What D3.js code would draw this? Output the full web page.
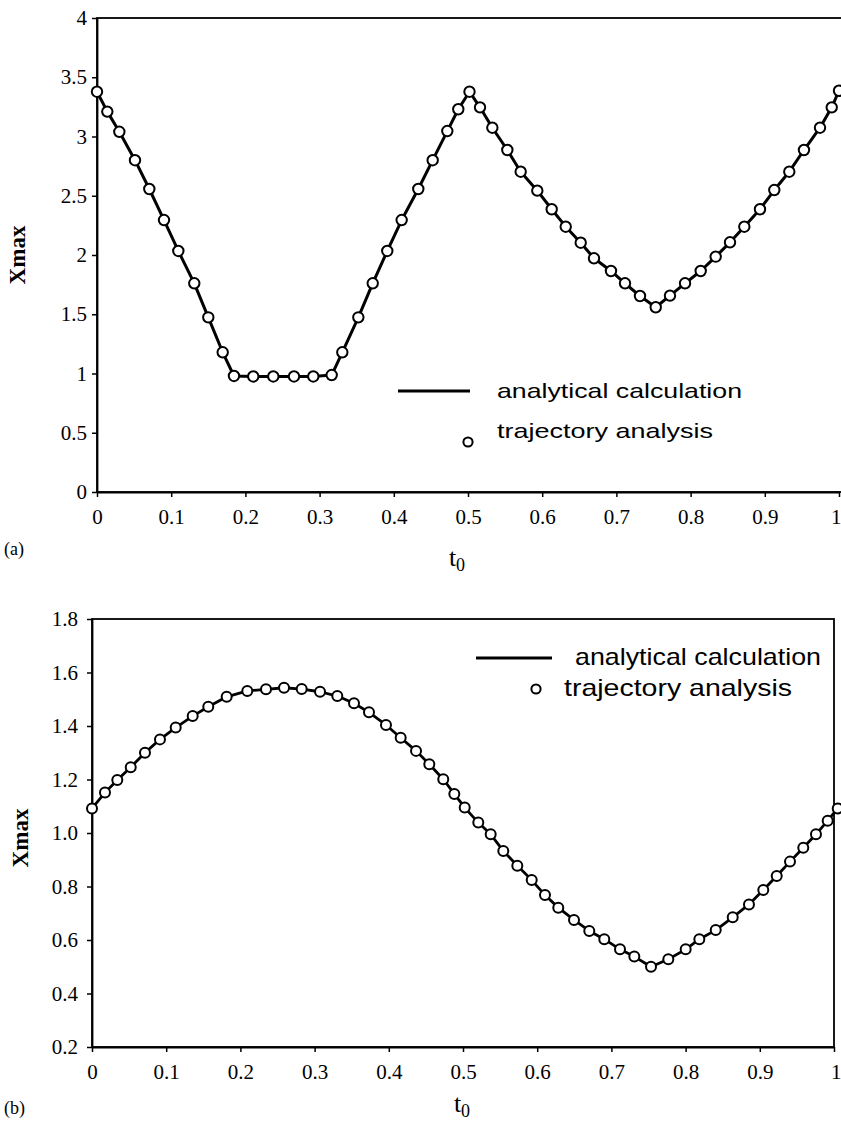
<!DOCTYPE html>
<html>
<head>
<meta charset="utf-8">
<script src="https://cdn.jsdelivr.net/npm/d3@7"></script>
<style>
  body { margin: 0; background: #fff; }
  svg { display: block; }
</style>
</head>
<body>
<svg id="svg" width="841" height="1124"></svg>
<script>
// panel (a)
const tA = [0, 0.0139, 0.0301, 0.0512, 0.0705, 0.0903, 0.1096, 0.1311, 0.1500, 0.1694,
  0.1846, 0.2106, 0.2376, 0.2655, 0.2915, 0.3163, 0.3306, 0.3522, 0.3716, 0.3912,
  0.4106, 0.4330, 0.4524, 0.4721, 0.4869, 0.5020, 0.5162, 0.5328, 0.5530, 0.5710,
  0.5934, 0.6128, 0.6317, 0.6519, 0.6698, 0.6927, 0.7116, 0.7318, 0.7530, 0.7722,
  0.7925, 0.8136, 0.8338, 0.8531, 0.8724, 0.8935, 0.9128, 0.9330, 0.9528, 0.9744,
  0.9902, 1.0];
const xmaxA = [3.378, 3.21, 3.04, 2.80, 2.557, 2.295, 2.034, 1.761, 1.474, 1.179,
  0.979, 0.975, 0.975, 0.975, 0.975, 0.987, 1.179, 1.474, 1.761, 2.034,
  2.295, 2.557, 2.80, 3.046, 3.23, 3.378, 3.246, 3.074, 2.886, 2.703,
  2.543, 2.386, 2.239, 2.104, 1.972, 1.865, 1.761, 1.654, 1.559, 1.657,
  1.761, 1.865, 1.986, 2.107, 2.239, 2.386, 2.548, 2.703, 2.886, 3.074,
  3.246, 3.386];

// panel (b)
const tB = [0, 0.0175, 0.0341, 0.0522, 0.0714, 0.0916, 0.1128, 0.1357, 0.1567, 0.1815,
  0.2093, 0.2345, 0.2588, 0.2826, 0.3073, 0.3306, 0.3531, 0.3733, 0.3962, 0.4160,
  0.4367, 0.4546, 0.4734, 0.4883, 0.5023, 0.5206, 0.5373, 0.5543, 0.5732, 0.5926,
  0.6105, 0.6284, 0.6496, 0.6702, 0.6904, 0.7116, 0.7309, 0.7534, 0.7767, 0.8001,
  0.8185, 0.8406, 0.8635, 0.8854, 0.9047, 0.9228, 0.9407, 0.9586, 0.9757, 0.9915,
  1.005];
const xmaxB = [1.092, 1.151, 1.198, 1.246, 1.300, 1.350, 1.394, 1.437, 1.472, 1.509,
  1.531, 1.537, 1.543, 1.538, 1.528, 1.512, 1.485, 1.451, 1.404, 1.356,
  1.307, 1.257, 1.201, 1.146, 1.095, 1.039, 0.995, 0.933, 0.878, 0.824,
  0.768, 0.721, 0.675, 0.634, 0.603, 0.565, 0.538, 0.500, 0.528, 0.565,
  0.603, 0.637, 0.685, 0.733, 0.787, 0.839, 0.893, 0.945, 0.995, 1.046,
  1.092];

const xTicks = [0, 0.1, 0.2, 0.3, 0.4, 0.5, 0.6, 0.7, 0.8, 0.9, 1];
const xTickLabels = ["0", "0.1", "0.2", "0.3", "0.4", "0.5", "0.6", "0.7", "0.8", "0.9", "1"];
const yTicksA = [0, 0.5, 1, 1.5, 2, 2.5, 3, 3.5, 4];
const yTickLabelsA = ["0", "0.5", "1", "1.5", "2", "2.5", "3", "3.5", "4"];
const yTicksB = [0.2, 0.4, 0.6, 0.8, 1.0, 1.2, 1.4, 1.6, 1.8];
const yTickLabelsB = ["0.2", "0.4", "0.6", "0.8", "1.0", "1.2", "1.4", "1.6", "1.8"];
const legendLabels = ["analytical calculation", "trajectory analysis"];

const svg = d3.select("#svg");
const serif = "'Liberation Serif', 'Times New Roman', serif";
const sans = "'Liberation Sans', Arial, sans-serif";

function panel(opt) {
  const x = d3.scaleLinear().domain([0, 1]).range([opt.left, opt.right]);
  const y = d3.scaleLinear().domain(opt.yDomain).range([opt.bottom, opt.top]);
  const g = svg.append("g");

  // frame
  g.append("rect")
    .attr("x", opt.left).attr("y", opt.top)
    .attr("width", opt.frameRight - opt.left).attr("height", opt.bottom - opt.top)
    .attr("fill", "none").attr("stroke", "#000").attr("stroke-width", 1.8);

  const xAxis = g.append("g")
    .attr("transform", `translate(0,${opt.bottom})`)
    .call(d3.axisBottom(x).tickValues(xTicks).tickSizeInner(5).tickSizeOuter(0).tickPadding(12)
      .tickFormat((d, i) => xTickLabels[i]));
  const yAxis = g.append("g")
    .attr("transform", `translate(${opt.left},0)`)
    .call(d3.axisLeft(y).tickValues(opt.yTicks).tickSizeInner(5).tickSizeOuter(0).tickPadding(opt.yPad)
      .tickFormat((d, i) => opt.yLabels[i]));
  [xAxis, yAxis].forEach(a => {
    a.select(".domain").attr("stroke", "#000").attr("stroke-width", 1.8);
    a.selectAll(".tick line").attr("stroke", "#000").attr("stroke-width", 1.5);
    a.selectAll(".tick text").attr("fill", "#000")
      .style("font-family", serif).style("font-size", opt.tickSize + "px");
  });
  // last x label sits on the page edge
  if (opt.lastLabelEnd) {
    xAxis.selectAll(".tick text").filter((d, i) => i === xTicks.length - 1)
      .attr("text-anchor", "end").attr("x", opt.lastLabelEnd - opt.right);
  }

  // y title
  g.append("text")
    .attr("transform", `translate(${opt.yTitleX},${opt.yTitleY}) rotate(-90)`)
    .attr("text-anchor", "middle")
    .style("font-family", serif).style("font-weight", "bold").style("font-size", "23px")
    .text("Xmax");

  // x title t0
  const xt = g.append("text")
    .attr("x", opt.xTitleX).attr("y", opt.xTitleY)
    .attr("text-anchor", "middle")
    .style("font-family", serif).style("font-size", "26px");
  xt.append("tspan").text("t");
  xt.append("tspan").attr("dy", 5).style("font-size", "18px").text("0");

  // panel letter
  g.append("text")
    .attr("x", 4).attr("y", opt.letterY)
    .style("font-family", serif).style("font-size", "18px")
    .text(opt.letter);

  const pts = opt.t.map((d, i) => ({ t: d, v: opt.v[i] }));

  g.append("path")
    .datum(pts)
    .attr("fill", "none").attr("stroke", "#000").attr("stroke-width", opt.lineW)
    .attr("stroke-linejoin", "round")
    .attr("d", d3.line().x(d => x(d.t)).y(d => y(d.v)));

  g.selectAll("circle.pt")
    .data(pts)
    .join("circle")
    .attr("class", "pt")
    .attr("cx", d => x(d.t)).attr("cy", d => y(d.v))
    .attr("r", opt.r)
    .attr("fill", "#fff").attr("stroke", "#000").attr("stroke-width", 2);

  // legend
  const L = opt.legend;
  g.append("line")
    .attr("x1", L.lineX1).attr("x2", L.lineX2).attr("y1", L.lineY).attr("y2", L.lineY)
    .attr("stroke", "#000").attr("stroke-width", 2.8);
  g.append("text")
    .attr("x", L.text1X).attr("y", L.text1Y)
    .attr("textLength", L.text1W).attr("lengthAdjust", "spacingAndGlyphs")
    .style("font-family", sans).style("font-size", L.size + "px")
    .text(legendLabels[0]);
  g.append("circle")
    .attr("cx", L.circX).attr("cy", L.circY).attr("r", 4.6)
    .attr("fill", "#fff").attr("stroke", "#000").attr("stroke-width", 2);
  g.append("text")
    .attr("x", L.text2X).attr("y", L.text2Y)
    .attr("textLength", L.text2W).attr("lengthAdjust", "spacingAndGlyphs")
    .style("font-family", sans).style("font-size", L.size + "px")
    .text(legendLabels[1]);
}

panel({
  left: 97, right: 839, frameRight: 843, top: 18, bottom: 492, lastLabelEnd: 841,
  yDomain: [0, 4], yTicks: yTicksA, yLabels: yTickLabelsA, yPad: 5,
  t: tA, v: xmaxA, r: 5.2, lineW: 3, tickSize: 21,
  yTitleX: 25, yTitleY: 255, xTitleX: 457, xTitleY: 566, letter: "(a)", letterY: 555,
  legend: { lineX1: 398, lineX2: 470, lineY: 391, text1X: 497, text1Y: 398, text1W: 245,
    circX: 468, circY: 442, text2X: 497, text2Y: 438, text2W: 216, size: 21 }
});

panel({
  left: 92, right: 834, frameRight: 834, top: 619, bottom: 1047, lastLabelEnd: 841,
  yDomain: [0.2, 1.8], yTicks: yTicksB, yLabels: yTickLabelsB, yPad: 9,
  t: tB, v: xmaxB, r: 5, lineW: 2.8, tickSize: 21,
  yTitleX: 28, yTitleY: 838, xTitleX: 462, xTitleY: 1112, letter: "(b)", letterY: 1114,
  legend: { lineX1: 476, lineX2: 552, lineY: 658, text1X: 575, text1Y: 665, text1W: 246,
    circX: 536, circY: 689, text2X: 564, text2Y: 696, text2W: 228, size: 24 }
});
</script>
</body>
</html>
